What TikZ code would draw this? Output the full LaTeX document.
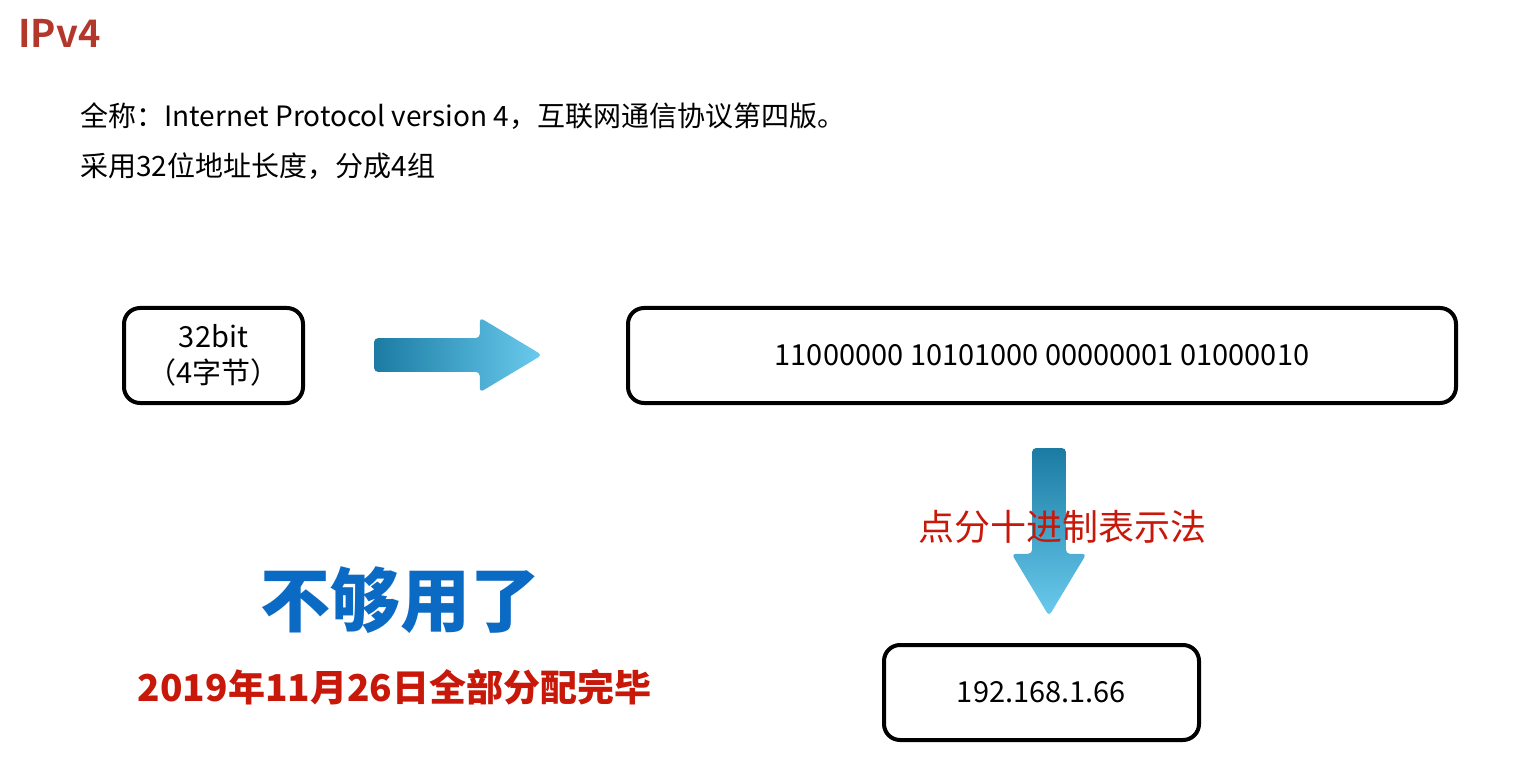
\documentclass[tikz,border=0pt]{standalone}
\usepackage{fontspec}
\setmainfont{Noto Sans CJK SC}[BoldFont={Noto Sans CJK SC Bold}]
\newfontfamily\heavyfont{Noto Sans CJK SC Black}
\usetikzlibrary{shapes.arrows,positioning}
\definecolor{titlered}{RGB}{178,56,44}
\definecolor{notered}{RGB}{200,24,10}
\definecolor{shoutblue}{RGB}{10,106,196}
\definecolor{arrowdark}{RGB}{27,123,163}
\definecolor{arrowlight}{RGB}{106,203,238}
\tikzset{
  bitbox/.style={
    draw,
    line width=2pt,
    rounded corners=8pt,
    minimum height=47.5pt,
    align=center,
    font=\fontsize{14.5pt}{18pt}\selectfont
  },
  fatarrow/.style={
    single arrow,
    minimum height=84pt,
    minimum width=37pt,
    inner sep=8.25pt,
    text height=0pt,
    text depth=0pt,
    text width=0pt,
    single arrow head extend=10.25pt,
    single arrow tip angle=62,
    rounded corners=2pt
  },
  line/.style={
    anchor=west,
    inner sep=0pt,
    font=\fontsize{14pt}{16pt}\selectfont
  },
  every picture/.style={
    x=0.5pt,
    y=-0.5pt
  }
}

\begin{document}
\begin{tikzpicture}
  \useasboundingbox (0,0) rectangle (1540,764);
  % heading and text lines
  \node[anchor=west,inner sep=0pt,text=titlered,font=\bfseries\fontsize{19pt}{22pt}\selectfont] (title) at (18,33) {IPv4};
  \node[line] (full) at (80,116) {全称：Internet Protocol version 4，互联网通信协议第四版。};
  \node[line] (len) at (80,166) {采用32位地址长度，分成4组};
  % boxes
  \node[bitbox,minimum width=89.5pt] (bits) at (213.5,355.5) {32bit\\（4字节）};
  \node[bitbox,minimum width=414pt] (binary) at (1042,355.5) {11000000 10101000 00000001 01000010};
  \node[bitbox,minimum width=157.5pt] (dotted) at (1041.5,692.5) {192.168.1.66};
  % arrows
  \node[fatarrow,left color=arrowdark,right color=arrowlight] (toright) at (444,355) {};
  \node[fatarrow,shape border rotate=270,top color=arrowdark,bottom color=arrowlight] (todown) at (1049,518) {};
  \node[text=notered,font=\fontsize{18pt}{20pt}\selectfont] (method) at (1062,527) {点分十进制表示法};
  % remarks
  \node[text=shoutblue,font=\heavyfont\fontsize{35pt}{38pt}\selectfont] (short) at (400,600) {不够用了};
  \node[text=notered,font=\heavyfont\fontsize{18.5pt}{20pt}\selectfont] (date) at (394.5,687) {2019年11月26日全部分配完毕};
\end{tikzpicture}
\end{document}
